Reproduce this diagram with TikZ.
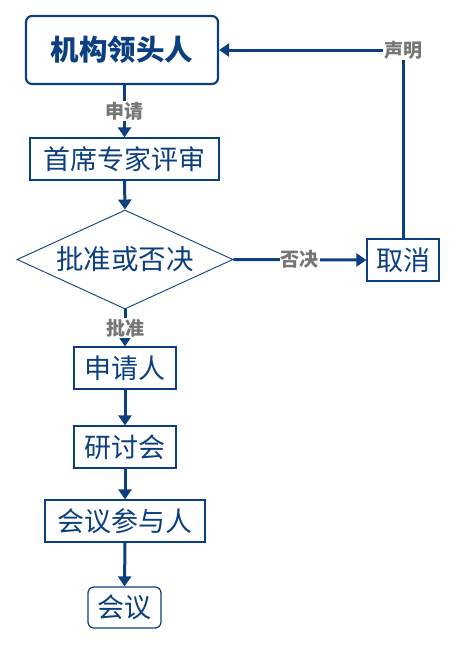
\documentclass[tikz,border=0pt]{standalone}
\usepackage{fontspec}
\setmainfont{Noto Sans CJK SC}
\usepackage{xcolor}
\usetikzlibrary{shapes.geometric,arrows.meta}
\definecolor{flowblue}{HTML}{0B3F80}
\definecolor{labelgray}{HTML}{767676}

\begin{document}
\begin{tikzpicture}[x=1pt, y=-1pt,
    box/.style={draw=flowblue, line width=1.2pt, text=flowblue, inner sep=0pt,
        minimum height=42pt, font=\fontsize{27}{27}\selectfont},
    leadbox/.style={box, line width=2.2pt, rounded corners=6pt, minimum height=68pt,
        font=\fontsize{28.5}{28.5}\selectfont\bfseries},
    endbox/.style={box, rounded corners=6pt},
    decision/.style={diamond, draw=flowblue, line width=0.9pt, text=flowblue, inner sep=0pt,
        aspect=2.18, minimum width=216pt, minimum height=99pt, font=\fontsize{27.5}{27.5}\selectfont},
    flow/.style={draw=flowblue, line width=3pt, -{Triangle[length=10pt,width=13pt]}},
    flowlabel/.style={fill=white, text=labelgray, inner sep=1pt, font=\fontsize{19}{19}\selectfont\bfseries}
]
    \useasboundingbox (0,0) rectangle (456,645);

    % Nodes
    \node[leadbox, minimum width=192pt] (lead) at (122,50) {机构领头人};
    \node[box, minimum width=189pt] (review) at (124.5,159) {首席专家评审};
    \node[decision] (decide) at (125,259.5) {批准或否决};
    \node[box, minimum width=72pt] (cancel) at (403,260) {取消};
    \node[box, minimum width=102pt] (applicant) at (125,368) {申请人};
    \node[box, minimum width=102pt] (seminar) at (125,447) {研讨会};
    \node[box, minimum width=160pt] (participants) at (125,521) {会议参与人};
    \node[endbox, minimum width=73pt, minimum height=41pt] (meeting) at (124.5,607.5) {会议};

    % Connectors
    \draw[flow] (lead.south -| review.north) -- node[flowlabel] {申请} (review.north);
    \draw[flow] (review.south) -- (decide.north);
    \draw[flow] (decide.east) -- node[flowlabel, pos=0.5] {否决} (cancel.west);
    \draw[flow] (cancel.north) |- node[flowlabel, pos=0.5] {声明} (lead.east);
    \draw[flow] (decide.south) -- node[flowlabel, pos=0.5] {批准} (applicant.north);
    \draw[flow] (applicant.south) -- (seminar.north);
    \draw[flow] (seminar.south) -- (participants.north);
    \draw[flow] (participants.south) -- (meeting.north);
\end{tikzpicture}
\end{document}
